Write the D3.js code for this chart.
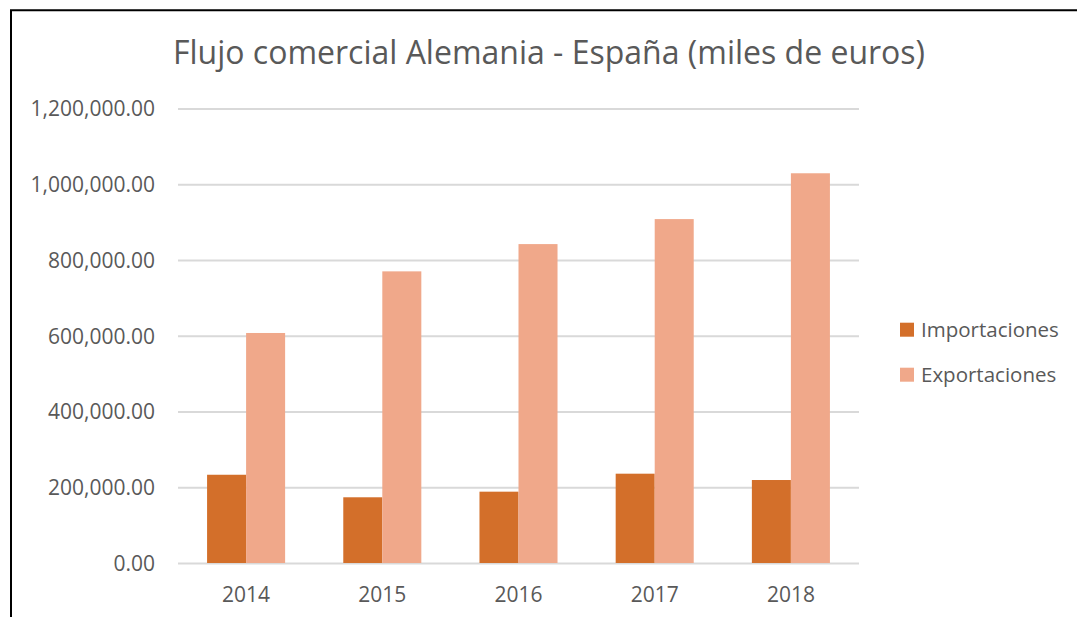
<!DOCTYPE html>
<html>
<head>
<meta charset="utf-8">
<script src="https://cdn.jsdelivr.net/npm/d3@7"></script>
<style>
  body { margin: 0; background: #fff; }
  text { font-family: "Open Sans", sans-serif; fill: #595959; }
  .grid line { stroke: #d9d9d9; stroke-width: 2; }
</style>
</head>
<body>
<div id="chart"></div>
<script>
const width = 1077
const height = 617
const margin = { top: 108.5, bottom: 617 - 563, left: 178, right: 1077 - 859 }

// datos
const years = ["2014", "2015", "2016", "2017", "2018"]
const series = ["Importaciones", "Exportaciones"]
const importaciones = [233000, 173500, 188300, 235800, 219100]
const exportaciones = [607300, 770000, 842000, 908000, 1029000]
const yTicks = [0, 200000, 400000, 600000, 800000, 1000000, 1200000]
const colors = ["#d36f2a", "#f0a88a"]

const svg = d3.select("div#chart")
  .append("svg")
  .attr("width", width)
  .attr("height", height)

// marco (solo arriba e izquierda, el resto queda fuera de la captura)
svg.append("path")
  .attr("d", "M11,617 V10.3 H1077")
  .attr("fill", "none")
  .attr("stroke", "#000")
  .attr("stroke-width", 2)

const innerW = width - margin.left - margin.right
const innerH = height - margin.top - margin.bottom

const g = svg.append("g")
  .attr("transform", `translate(${margin.left}, ${margin.top})`)

// escalas
const x = d3.scaleBand().domain(years).range([0, innerW])
  .paddingInner(0.427).paddingOuter(0.2135)
const xSub = d3.scaleBand().domain(series).range([0, x.bandwidth()])
const y = d3.scaleLinear().domain([0, 1200000]).range([innerH, 0])
const color = d3.scaleOrdinal().domain(series).range(colors)

// grid + eje Y
const yAxis = d3.axisLeft(y).tickValues(yTicks)
  .tickFormat(d3.format(",.2f"))
  .tickSize(-innerW)
  .tickPadding(23)

g.append("g")
  .attr("class", "grid")
  .call(yAxis)
  .call(a => a.select(".domain").remove())
  .call(a => a.selectAll("text")
    .attr("font-size", 21)
    .attr("dy", "0.35em")
    .style("font-family", "Open Sans, sans-serif")
    .attr("fill", "#595959"))

// eje X
g.append("g")
  .attr("transform", `translate(0, ${innerH})`)
  .call(d3.axisBottom(x).tickSize(0).tickPadding(0))
  .call(a => a.select(".domain").remove())
  .call(a => a.selectAll("text")
    .attr("font-size", 21)
    .attr("y", 39)
    .attr("dy", 0)
    .style("font-family", "Open Sans, sans-serif")
    .attr("fill", "#595959"))

// barras
const data = years.map((yr, i) => ({
  year: yr,
  values: [
    { key: series[0], value: importaciones[i] },
    { key: series[1], value: exportaciones[i] },
  ]
}))

g.selectAll("g.year").data(data)
  .join("g")
  .attr("class", "year")
  .attr("transform", d => `translate(${x(d.year)}, 0)`)
  .selectAll("rect").data(d => d.values)
  .join("rect")
  .attr("x", d => xSub(d.key))
  .attr("y", d => y(d.value))
  .attr("width", xSub.bandwidth())
  .attr("height", d => innerH - y(d.value))
  .attr("fill", d => color(d.key))

// titulo
svg.append("text")
  .attr("x", 549)
  .attr("y", 64)
  .attr("text-anchor", "middle")
  .attr("font-size", 32)
  .text("Flujo comercial Alemania - España (miles de euros)")

// leyenda
const legend = svg.append("g")
  .attr("transform", "translate(900, 322.7)")

const item = legend.selectAll("g").data(series)
  .join("g")
  .attr("transform", (d, i) => `translate(0, ${i * 45})`)

item.append("rect")
  .attr("width", 14)
  .attr("height", 14)
  .attr("fill", d => color(d))

item.append("text")
  .attr("x", 21)
  .attr("y", 14)
  .attr("font-size", 20.5)
  .text(d => d)
</script>
</body>
</html>
